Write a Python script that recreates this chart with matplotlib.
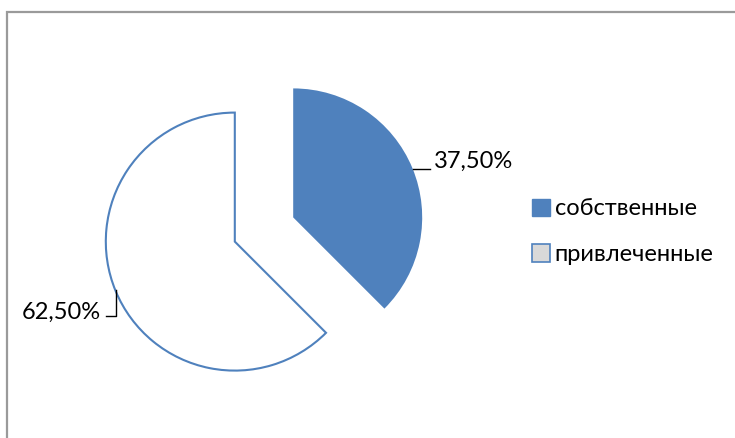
import matplotlib
matplotlib.use("Agg")
import matplotlib.pyplot as plt
from matplotlib.patches import Rectangle, Patch

plt.rcParams['font.family'] = ['Lato', 'DejaVu Sans']

labels = ["собственные", "привлеченные"]
values = [37.5, 62.5]
value_labels = ["37,50%", "62,50%"]

blue = "#4F81BD"

fig = plt.figure(figsize=(7.35, 4.38), dpi=100)
ax = fig.add_axes([0, 0, 1, 1])
ax.axis('off')

# outer frame (cut off at right and bottom, as in the original)
fig.patches.append(Rectangle((7 / 735, -0.05), 1.0, (438 - 12) / 438 + 0.05,
                             transform=fig.transFigure, fill=False,
                             edgecolor="#9a9a9a", linewidth=1.6))

# explode is in data units here (pixels)
wedges, _ = ax.pie(values, startangle=90, counterclock=False,
                   center=(264, 438 - 229.5), radius=129,
                   explode=[31.6, 31.6],
                   colors=[blue, "white"],
                   wedgeprops=dict(edgecolor=blue, linewidth=1.5))
wedges[0].set_linewidth(0)
ax.set_xlim(0, 735)
ax.set_ylim(0, 438)
ax.set_aspect('equal')

# data labels with leader lines
ax.plot([413, 430], [438 - 169, 438 - 169], color="black", lw=1)
ax.text(434, 438 - 161, value_labels[0], fontsize=17, va='center', ha='left')

ax.plot([116, 116, 106], [438 - 290, 438 - 316, 438 - 316], color="black", lw=1)
ax.text(101, 438 - 312, value_labels[1], fontsize=17, va='center', ha='right')

handles = [Patch(facecolor=blue, edgecolor=blue),
           Patch(facecolor="#d9d9d9", edgecolor=blue, linewidth=1.2)]
leg = ax.legend(handles, labels, loc='upper left',
                bbox_to_anchor=(523 / 735, 1 - 189 / 438),
                frameon=False, fontsize=17, handlelength=0.75,
                handleheight=0.75, handletextpad=0.2, labelspacing=1.05,
                borderaxespad=0)

fig.savefig("out.png", dpi=100)
